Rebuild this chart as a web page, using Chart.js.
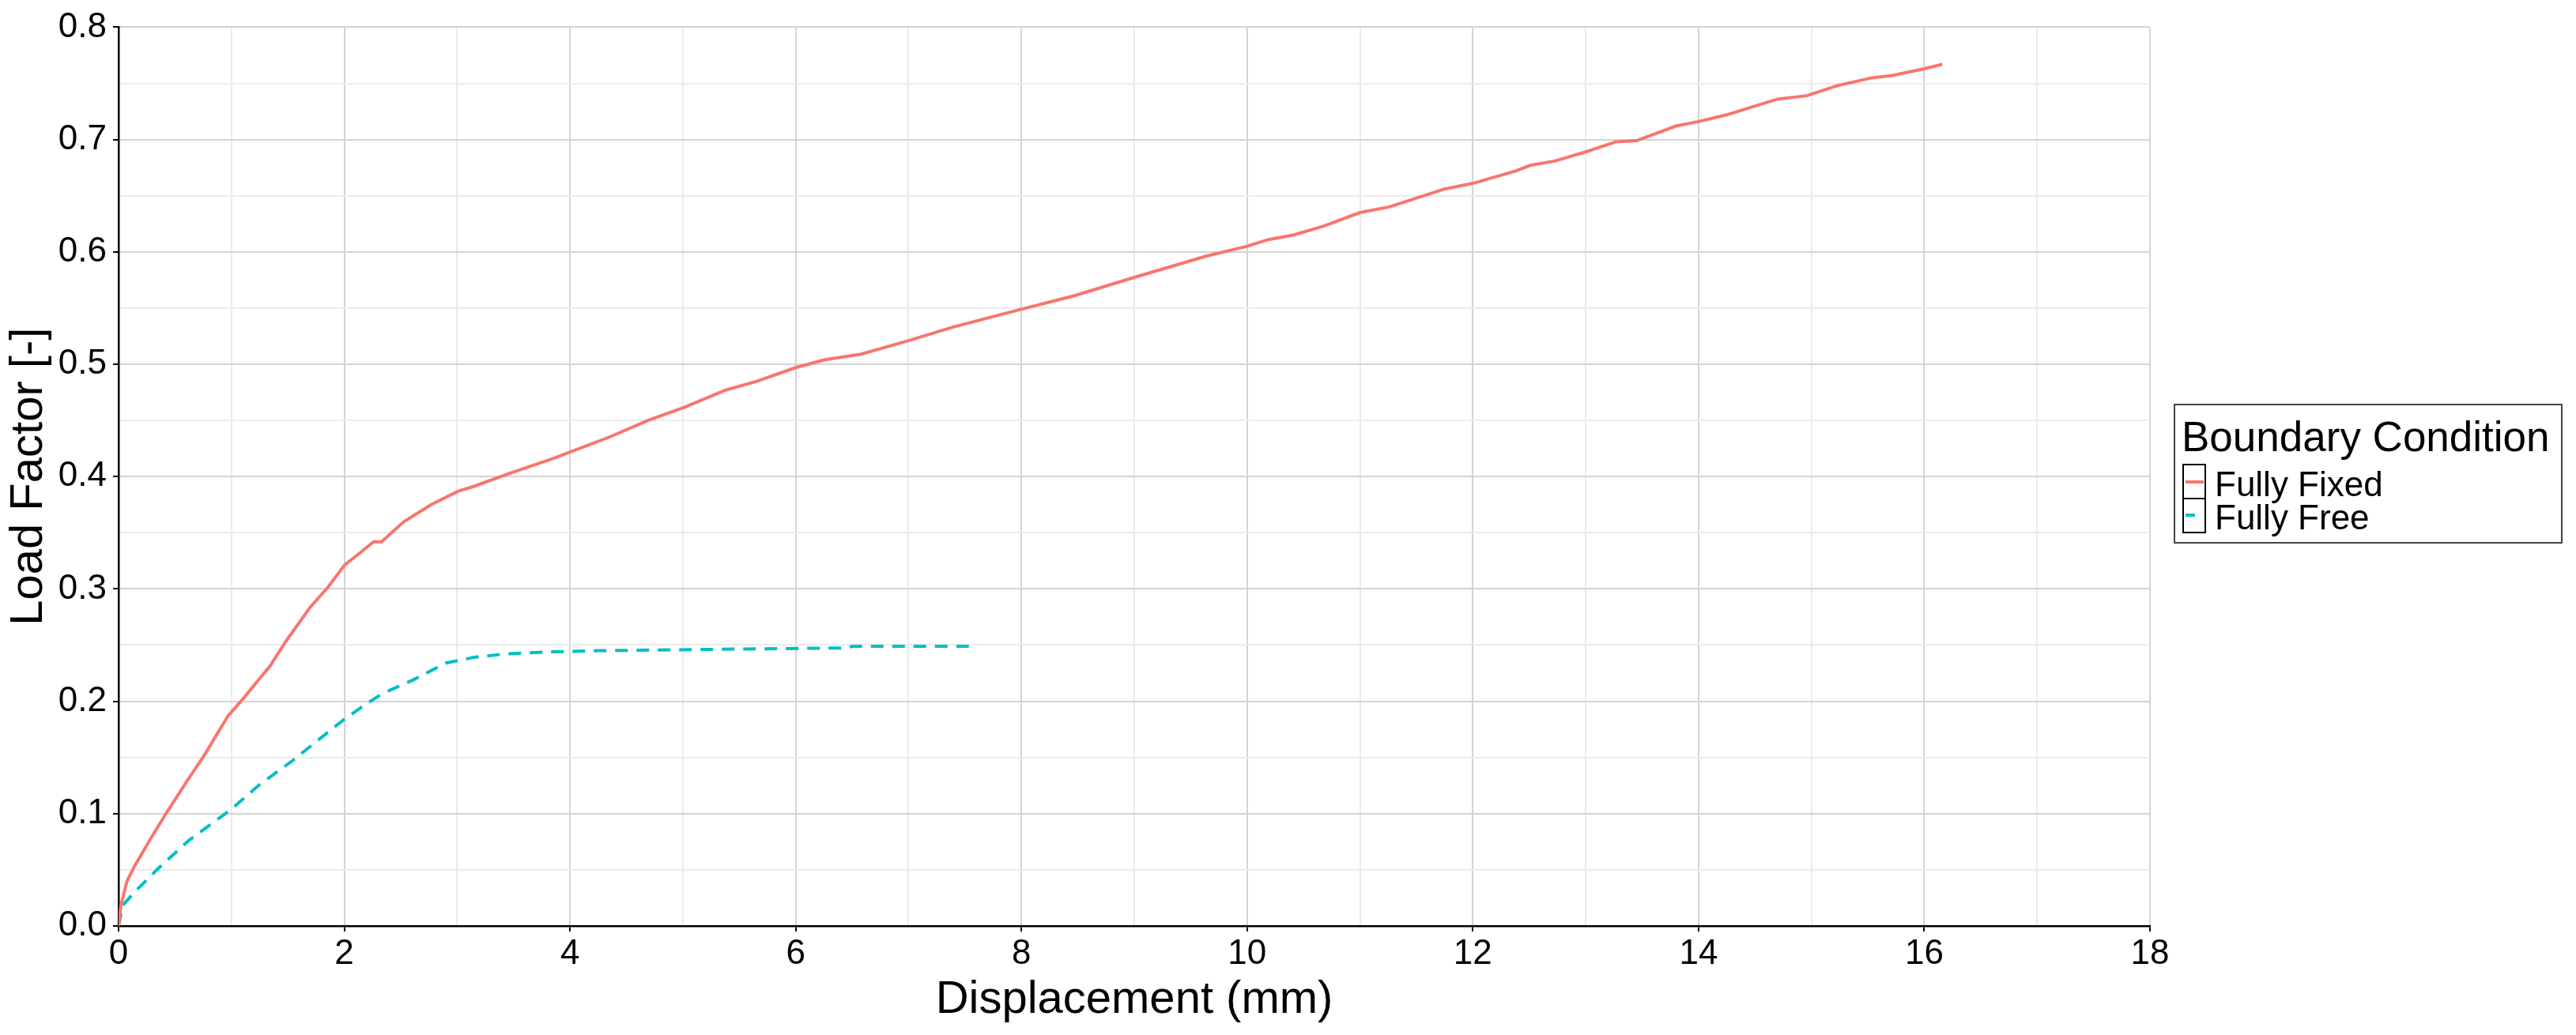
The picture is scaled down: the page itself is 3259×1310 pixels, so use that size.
<!DOCTYPE html>
<html>
<head>
<meta charset="utf-8">
<script src="https://cdn.jsdelivr.net/npm/chart.js@4"></script>
<style>
  body { margin: 0; background: #fff; font-family: "Liberation Sans", Arial, sans-serif; }
  #wrap { position: absolute; left: 0; top: 0; width: 3259px; height: 1310px; }
  .abs { position: absolute; white-space: nowrap; line-height: 1; color: #000; }
  #legend-box { position: absolute; left: 2750px; top: 511px; width: 492px; height: 177px; border: 2px solid #444; box-sizing: border-box; }
  .key { position: absolute; left: 2761px; width: 30px; border: 2px solid #000; box-sizing: border-box; }
  .swatch { position: absolute; height: 4px; }
</style>
</head>
<body>
<div id="wrap">
  <canvas id="chart" width="3259" height="1310"></canvas>
  <div id="legend-box"></div>
  <div class="abs" style="left:2760px; top:526px; font-size:53px;">Boundary Condition</div>
  <div class="key" style="top:587px; height:45px;"></div>
  <div class="key" style="top:630px; height:45px;"></div>
  <div class="swatch" style="left:2765px; top:608px; width:23px; background:#F8766D;"></div>
  <div class="swatch" style="left:2765px; top:650px; width:12px; background:#00BFC4;"></div>
  <div class="abs" style="left:2802px; top:591px; font-size:44px;">Fully Fixed</div>
  <div class="abs" style="left:2802px; top:633px; font-size:44px;">Fully Free</div>
</div>
<script>
// values
const fixedDisp = [0, 0.02, 0.075, 0.14, 0.28, 0.42, 0.6, 0.76, 0.97, 1.11, 1.24, 1.34, 1.48, 1.70, 1.86, 2.0, 2.15, 2.26, 2.33, 2.53, 2.77, 3.01, 3.14, 3.47, 3.85, 4.37, 4.69, 5.02, 5.38, 5.66, 6.0, 6.26, 6.58, 7.0, 7.39, 8.0, 8.47, 8.99, 9.63, 10.0, 10.19, 10.41, 10.68, 11.0, 11.26, 11.75, 12.0, 12.38, 12.51, 12.73, 13.0, 13.27, 13.45, 13.8, 14.0, 14.25, 14.7, 14.96, 15.23, 15.54, 15.72, 16.0, 16.16];
const fixedLoad = [0, 0.018, 0.04, 0.053, 0.077, 0.1, 0.128, 0.152, 0.187, 0.203, 0.219, 0.231, 0.253, 0.284, 0.302, 0.321, 0.333, 0.342, 0.342, 0.36, 0.375, 0.387, 0.391, 0.403, 0.416, 0.436, 0.450, 0.462, 0.477, 0.485, 0.497, 0.504, 0.509, 0.521, 0.533, 0.549, 0.561, 0.577, 0.596, 0.605, 0.611, 0.615, 0.623, 0.635, 0.640, 0.656, 0.661, 0.672, 0.677, 0.681, 0.689, 0.698, 0.699, 0.712, 0.716, 0.722, 0.736, 0.739, 0.748, 0.755, 0.757, 0.763, 0.767];

const freeDisp = [0, 0.035, 0.13, 0.36, 0.62, 1.0, 1.24, 1.54, 1.80, 2.0, 2.2, 2.34, 2.61, 2.9, 3.14, 3.41, 3.84, 4.25, 5.54, 6.46, 6.5, 7.59];
const freeLoad = [0, 0.018, 0.029, 0.052, 0.076, 0.104, 0.125, 0.147, 0.168, 0.184, 0.198, 0.207, 0.219, 0.234, 0.239, 0.242, 0.244, 0.245, 0.2465, 0.2475, 0.249, 0.249];

const seriesNames = ['Fully Fixed', 'Fully Free'];
const xTitle = 'Displacement (mm)';
const yTitle = 'Load Factor [-]';

const toPoints = (xs, ys) => xs.map((x, i) => ({ x: x, y: ys[i] }));

const MAJOR = '#d4d4d4';
const MINOR = '#ebebeb';

Chart.defaults.font.family = '"Liberation Sans", Arial, sans-serif';
Chart.defaults.color = '#000';

new Chart(document.getElementById('chart'), {
  type: 'line',
  data: {
    datasets: [{
      label: seriesNames[0],
      data: toPoints(fixedDisp, fixedLoad),
      borderColor: '#F8766D',
      borderWidth: 4,
      pointRadius: 0,
      tension: 0
    }, {
      label: seriesNames[1],
      data: toPoints(freeDisp, freeLoad),
      borderColor: '#00BFC4',
      borderWidth: 4,
      borderDash: [16, 11],
      pointRadius: 0,
      tension: 0
    }]
  },
  options: {
    responsive: false,
    devicePixelRatio: 1,
    animation: false,
    layout: { padding: { left: 0, top: 28, right: 539, bottom: 0 } },
    plugins: { legend: { display: false }, tooltip: { enabled: false } },
    scales: {
      x: {
        type: 'linear',
        min: 0, max: 18,
        afterFit: s => { s.height = 138; },
        border: { color: '#000', width: 2.5 },
        grid: {
          color: c => (c.tick && c.tick.value % 2 === 0) ? MAJOR : MINOR,
          lineWidth: 2,
          tickColor: c => (c.tick && c.tick.value % 2 === 0) ? '#000' : 'rgba(0,0,0,0)',
          tickLength: 7,
          tickWidth: 2
        },
        ticks: {
          stepSize: 1,
          autoSkip: false,
          maxRotation: 0,
          padding: 2,
          font: { size: 44 },
          callback: v => v % 2 === 0 ? String(v) : ''
        },
        title: { display: true, text: xTitle, font: { size: 58 }, padding: { top: 0, bottom: 9 } }
      },
      y: {
        min: 0, max: 0.8,
        afterFit: s => { s.width = 150; },
        border: { color: '#000', width: 2.5 },
        grid: {
          color: c => (c.tick && Math.round(c.tick.value * 20) % 2 === 0) ? MAJOR : MINOR,
          lineWidth: 2,
          tickColor: c => (c.tick && Math.round(c.tick.value * 20) % 2 === 0) ? '#000' : 'rgba(0,0,0,0)',
          tickLength: 7,
          tickWidth: 2
        },
        ticks: {
          stepSize: 0.05,
          autoSkip: false,
          padding: 8,
          font: { size: 44 },
          callback: v => Math.round(v * 20) % 2 === 0 ? v.toFixed(1) : ''
        },
        title: { display: true, text: yTitle, font: { size: 58 }, padding: { top: 2, bottom: 0 } }
      }
    }
  }
});
</script>
</body>
</html>
